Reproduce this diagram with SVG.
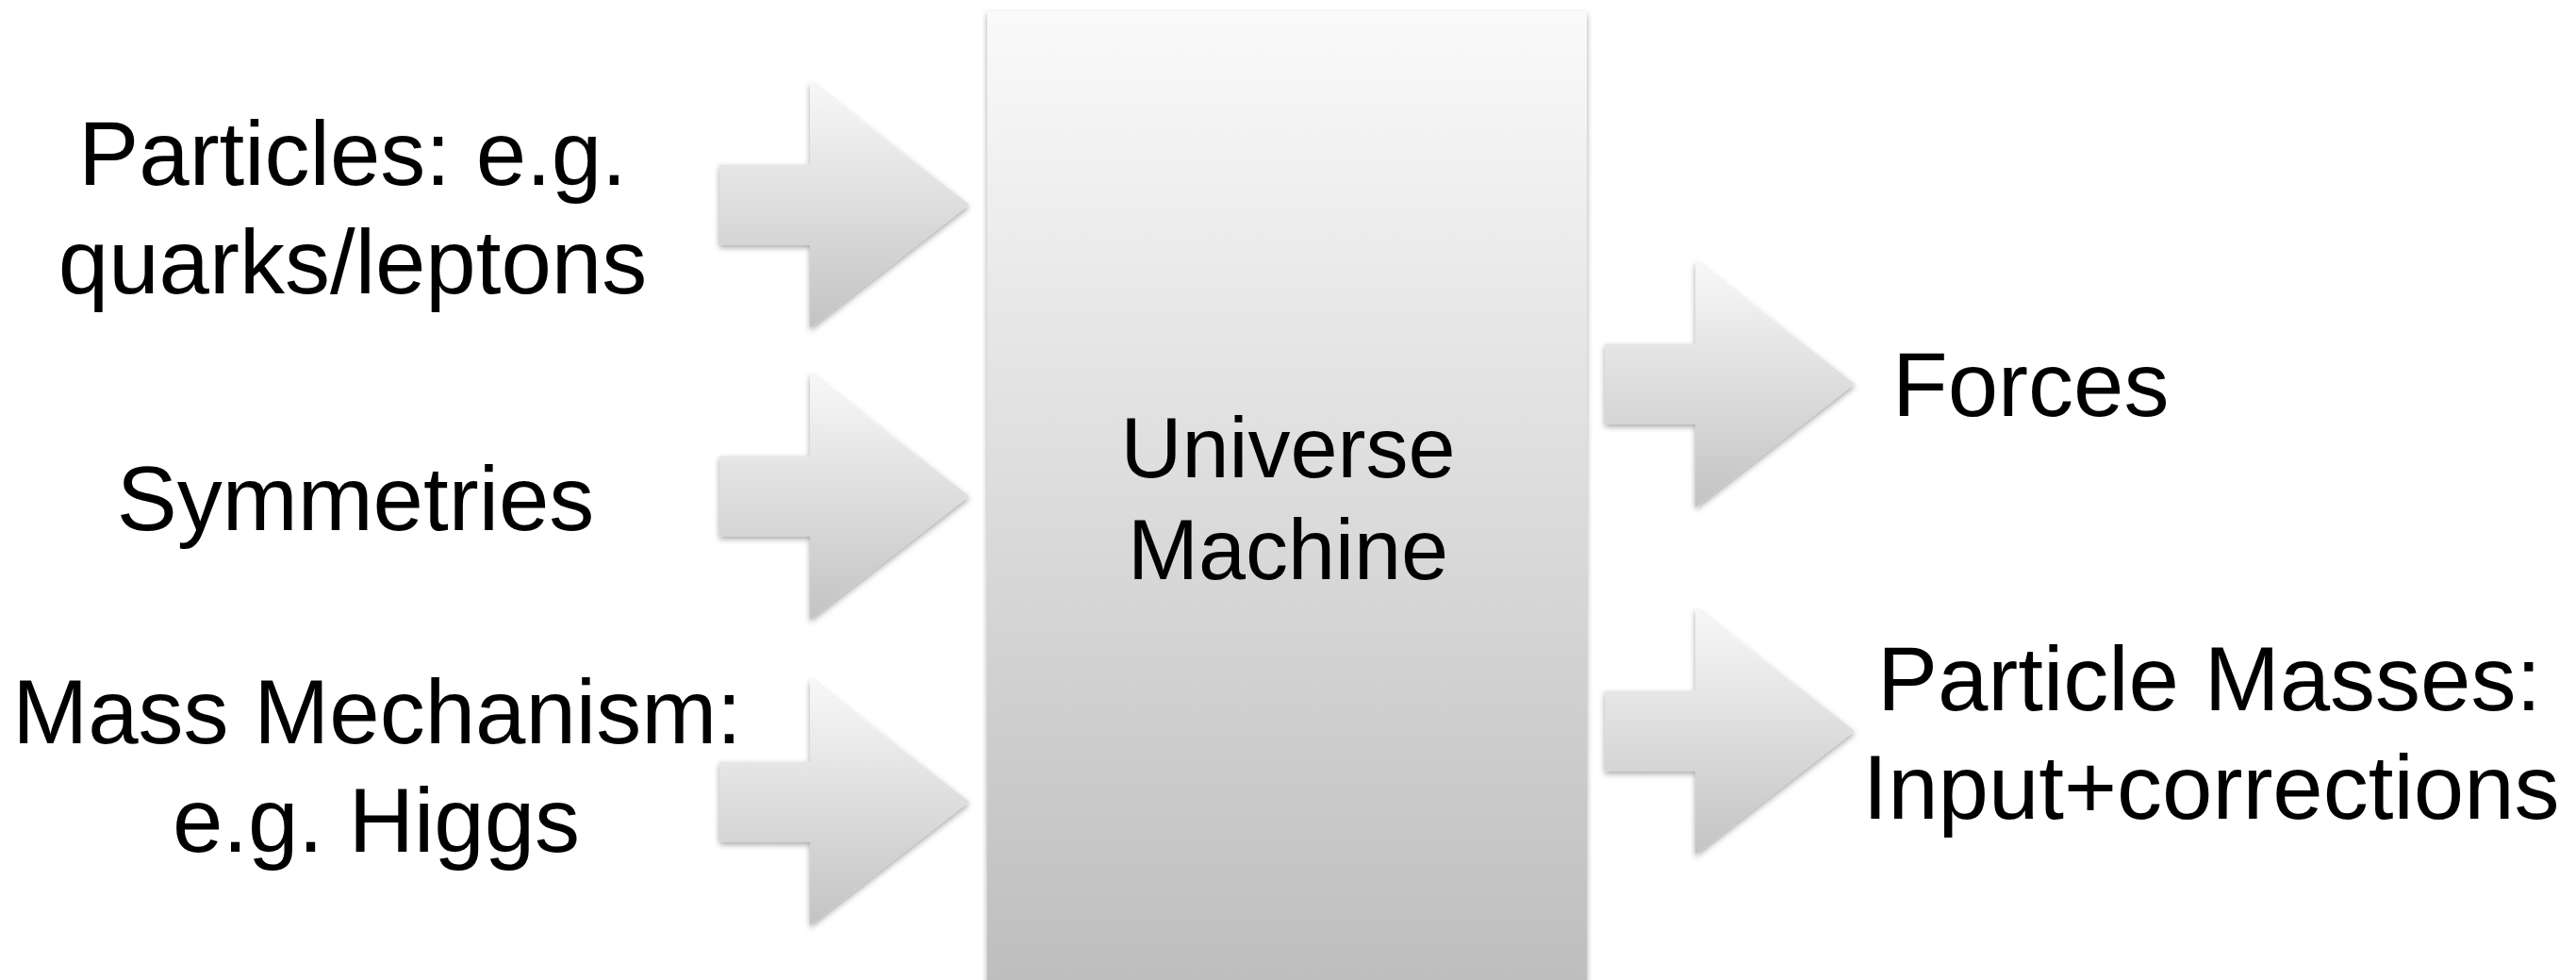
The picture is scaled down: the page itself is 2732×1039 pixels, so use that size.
<svg xmlns="http://www.w3.org/2000/svg" xmlns:xlink="http://www.w3.org/1999/xlink" width="2732" height="1039" viewBox="0 0 2732 1039">
  <style>
    .lbl { font-family: "Liberation Sans", Arial, sans-serif; font-size: 96px; fill: #000; }
    .ctr { text-anchor: middle; }
    .big { font-size: 90px; }
  </style>
  <defs>
    <linearGradient id="boxGrad" x1="0" y1="12" x2="0" y2="1039" gradientUnits="userSpaceOnUse">
      <stop offset="0" stop-color="#fafafa"/>
      <stop offset="1" stop-color="#bebebe"/>
    </linearGradient>
    <linearGradient id="arrowGrad" x1="0" y1="0" x2="0" y2="1">
      <stop offset="0" stop-color="#f8f8f8"/>
      <stop offset="1" stop-color="#c3c3c3"/>
    </linearGradient>
    <filter id="shadow" x="-10%" y="-10%" width="120%" height="125%">
      <feDropShadow dx="0" dy="3" stdDeviation="3" flood-color="#000" flood-opacity="0.35"/>
    </filter>
    <path id="blockArrow" d="M0,-42.5 H96 V-131 L265,0 L96,131 V42.5 H0 Z" fill="url(#arrowGrad)"/>
  </defs>

  <rect width="2732" height="1039" fill="#ffffff"/>

  <g id="connectors" filter="url(#shadow)">
    <use xlink:href="#blockArrow" transform="translate(763,217)"/>
    <use xlink:href="#blockArrow" transform="translate(763,526)"/>
    <use xlink:href="#blockArrow" transform="translate(763,850)"/>
    <use xlink:href="#blockArrow" transform="translate(1702,407)"/>
    <use xlink:href="#blockArrow" transform="translate(1702,775)"/>
  </g>

  <g id="universe-machine">
    <rect x="1047" y="12" width="636" height="1040" fill="url(#boxGrad)" filter="url(#shadow)"/>
    <text class="lbl ctr big" x="1366" y="506">Universe</text>
    <text class="lbl ctr big" x="1366" y="614">Machine</text>
  </g>

  <g id="particles">
    <text class="lbl ctr" x="374" y="196">Particles: e.g.</text>
    <text class="lbl ctr" x="374" y="311">quarks/leptons</text>
  </g>

  <g id="symmetries">
    <text class="lbl ctr" x="377" y="562">Symmetries</text>
  </g>

  <g id="mass-mechanism">
    <text class="lbl ctr" x="400" y="788">Mass Mechanism:</text>
    <text class="lbl ctr" x="399" y="903">e.g. Higgs</text>
  </g>

  <g id="forces">
    <text class="lbl" x="2007" y="441">Forces</text>
  </g>

  <g id="particle-masses">
    <text class="lbl ctr" x="2343" y="753">Particle Masses:</text>
    <text class="lbl ctr" x="2345" y="868">Input+corrections</text>
  </g>
</svg>
